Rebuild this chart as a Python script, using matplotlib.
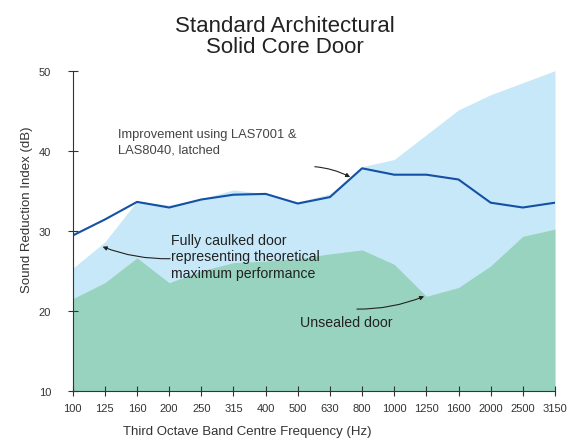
import matplotlib.pyplot as plt
import numpy as np

plt.rcParams["font.family"] = ["Liberation Sans", "DejaVu Sans"]

frequencies = ["100", "125", "160", "200", "250", "315", "400", "500",
               "630", "800", "1000", "1250", "1600", "2000", "2500", "3150"]
# fully caulked door (theoretical maximum)
caulked = [25.3, 28.6, 33.7, 33.2, 34.0, 35.1, 34.6, 33.6,
           34.6, 38.0, 38.9, 42.0, 45.1, 47.0, 48.5, 50.0]
# unsealed door
unsealed = [21.5, 23.5, 26.6, 23.5, 25.0, 26.0, 26.2, 26.5,
            27.1, 27.6, 25.8, 21.8, 22.9, 25.6, 29.3, 30.2]
# with LAS7001 & LAS8040, latched
improved = [29.4, 31.4, 33.6, 32.9, 33.9, 34.5, 34.6, 33.4,
            34.2, 37.8, 37.0, 37.0, 36.4, 33.5, 32.9, 33.5]

text_color = "#333333"
x = np.arange(len(frequencies))

fig = plt.figure(figsize=(5.79, 4.39), dpi=100)
ax = fig.add_axes([0.1256, 0.1077, 0.8329, 0.729])

ax.fill_between(x, 10, caulked, color="#c6e8f8", linewidth=0)
ax.fill_between(x, 10, unsealed, color="#98d3bf", linewidth=0)
ax.plot(x, improved, color="#1450a3", linewidth=1.5)

ax.set_xlim(0, len(frequencies) - 1)
ax.set_ylim(10, 50)
ax.set_xticks(x)
ax.set_xticklabels(frequencies)
ax.set_yticks([10, 20, 30, 40, 50])

for side in ("top", "right"):
    ax.spines[side].set_visible(False)
for side in ("left", "bottom"):
    ax.spines[side].set_color("#333333")
    ax.spines[side].set_linewidth(0.8)
ax.tick_params(axis="both", direction="inout", length=7, width=0.8,
               colors="#333333", labelsize=8, labelcolor=text_color)
ax.tick_params(axis="y", pad=12)
ax.tick_params(axis="x", pad=5)

fig.text(0.047, 1 - 210 / 439, "Sound Reduction Index (dB)", rotation=90,
         ha="center", va="center", fontsize=9.5, color=text_color)
fig.text(247 / 579, 1 - 432 / 439, "Third Octave Band Centre Frequency (Hz)",
         ha="center", va="center", fontsize=9.5, color=text_color)
fig.text(285 / 579, 1 - 37 / 439, "Standard Architectural\nSolid Core Door",
         ha="center", va="center", fontsize=16, color="#222222",
         linespacing=1.05)

arrow = dict(arrowstyle="-|>", color="#222222", lw=0.8,
             mutation_scale=6, shrinkA=0, shrinkB=0)

ax.text(1.41, 41.1, "Improvement using LAS7001 &\nLAS8040, latched",
        ha="left", va="center", fontsize=9.3, color="#444444",
        linespacing=1.35)
ax.annotate("", xy=(8.63, 36.7), xytext=(7.53, 38.0),
            arrowprops=dict(arrow, connectionstyle="arc3,rad=-0.1"))

ax.text(3.06, 26.8, "Fully caulked door\nrepresenting theoretical\nmaximum performance",
        ha="left", va="center", fontsize=10.2, color="#222222",
        linespacing=1.2)
ax.annotate("", xy=(0.93, 28.0), xytext=(3.03, 26.5),
            arrowprops=dict(arrow, connectionstyle="arc3,rad=-0.1"))

ax.text(7.07, 18.6, "Unsealed door", ha="left", va="center",
        fontsize=10.2, color="#222222")
ax.annotate("", xy=(10.93, 21.8), xytext=(8.84, 20.2),
            arrowprops=dict(arrow, connectionstyle="arc3,rad=0.1"))

fig.savefig("out.png", dpi=100)
